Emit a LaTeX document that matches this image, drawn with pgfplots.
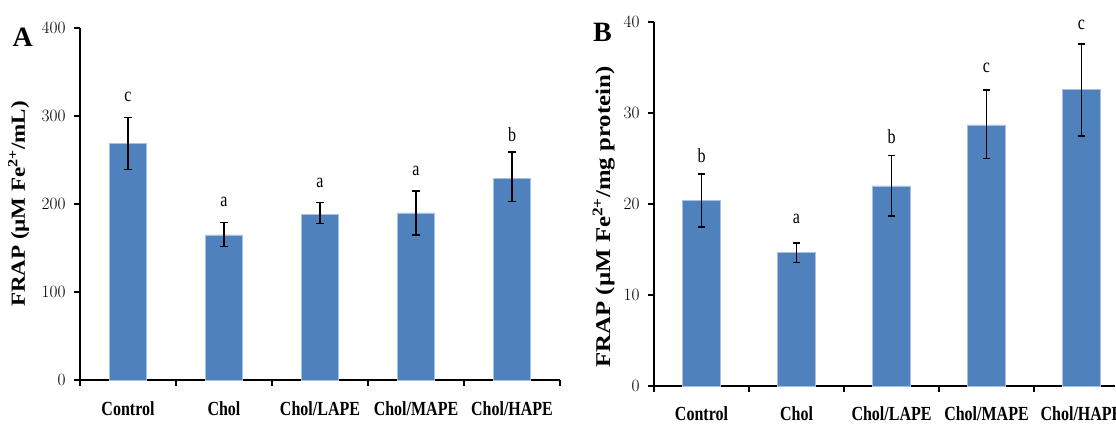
\documentclass[border=0pt]{standalone}
\usepackage{fontspec}
\setmainfont{Liberation Serif}
\newfontfamily\condfont[FakeStretch=0.8]{Liberation Serif}
\newfontfamily\ylabfontA[FakeStretch=1.15]{Liberation Serif}
\newfontfamily\ylabfontB[FakeStretch=1.18]{Liberation Serif}
\usepackage{pgfplots}
\pgfplotsset{compat=1.18}
\usepackage{pgfplotstable}
\definecolor{barblue}{HTML}{4F81BD}
\definecolor{baredge}{HTML}{A9C1E0}

\pgfplotstableread{
x y ep em
0 268.6 29.9 29.6
1 164.8 14.2 13.3
2 188.6 12.9 10.9
3 189.8 25.2 25.0
4 229.0 30.0 26.0
}\dataA

\pgfplotstableread{
x y ep em
0 20.4 2.9 2.9
1 14.7 1.0 1.15
2 22.0 3.35 3.35
3 28.7 3.8 3.7
4 32.6 5.0 5.1
}\dataB

\pgfplotsset{
  panel/.style={
    scale only axis,
    axis x line=bottom, axis y line=left,
    axis line style={-, line width=1.5pt, black},
    tick style={line width=1.5pt, black},
    tick align=outside, major tick length=6pt,
    xmin=-0.5, ymin=0,
    xtick={-0.5,0.5,1.5,2.5,3.5,4.5},
    xticklabels={Control,Chol,Chol/LAPE,Chol/MAPE,Chol/HAPE,{}},
    x tick label style={font=\condfont\bfseries\fontsize{20}{24}\selectfont, anchor=base, text depth=0pt, inner sep=0pt},
    y tick label style={font=\fontsize{16}{18}\selectfont, anchor=east, xshift=-5pt},
    ylabel style={at={(rel axis cs:0,0.5)}, anchor=base},
    clip=false,
  },
  mybar/.style={
    ybar, fill=barblue, draw=baredge, line width=0.6pt,
    error bars/y dir=both, error bars/y explicit,
    error bars/error bar style={line width=1.6pt, black},
    error bars/error mark options={rotate=90, line width=1.6pt, black, mark size=3.6pt},
  },
}
\newcommand{\lett}{\condfont\fontsize{20}{24}\selectfont}

\begin{document}
\begin{tikzpicture}
\useasboundingbox (0,0) rectangle (1116pt,424pt);
\node[anchor=base west, font=\bfseries\fontsize{28}{32}\selectfont, inner sep=0pt] at (12.5pt,377pt) {A};
\node[anchor=base west, font=\bfseries\fontsize{28}{32}\selectfont, inner sep=0pt] at (593pt,382pt) {B};

\begin{axis}[panel,
  at={(80pt,44pt)}, anchor=south west,
  width=480pt, height=352pt,
  xmax=4.5, ymax=400, ytick={0,100,200,300,400},
  x tick label style={xshift=48pt, yshift=-29pt},
  ylabel={FRAP (µM Fe\textsuperscript{2+}/mL)},
  ylabel style={font=\ylabfontA\bfseries\fontsize{20}{24}\selectfont, yshift=55pt},
]
\addplot[mybar, bar width=37.5pt] table[x=x, y=y, y error plus=ep, y error minus=em] {\dataA};
\node[anchor=base, font=\lett] at (axis cs:0,316) {c};
\node[anchor=base, font=\lett] at (axis cs:1,197) {a};
\node[anchor=base, font=\lett] at (axis cs:2,219) {a};
\node[anchor=base, font=\lett] at (axis cs:3,232) {a};
\node[anchor=base, font=\lett] at (axis cs:4,271) {b};
\end{axis}

\begin{axis}[panel,
  at={(654pt,38pt)}, anchor=south west,
  width=460.75pt, height=364pt,
  xmax=4.35, ymax=40, ytick={0,10,20,30,40},
  xtick={-0.5,0.5,1.5,2.5,3.5},
  xticklabels={Control,Chol,Chol/LAPE,Chol/MAPE,Chol/HAPE},
  x tick label style={xshift=47.5pt, yshift=-28pt},
  ylabel={FRAP (µM Fe\textsuperscript{2+}/mg protein)},
  ylabel style={font=\ylabfontB\bfseries\fontsize{21}{24}\selectfont, yshift=44pt, xshift=-13pt},
]
\addplot[mybar, bar width=38pt] table[x=x, y=y, y error plus=ep, y error minus=em] {\dataB};
\node[anchor=base, font=\lett] at (axis cs:0,24.6) {b};
\node[anchor=base, font=\lett] at (axis cs:1,17.9) {a};
\node[anchor=base, font=\lett] at (axis cs:2,26.7) {b};
\node[anchor=base, font=\lett] at (axis cs:3,34.4) {c};
\node[anchor=base, font=\lett] at (axis cs:4,39.2) {c};
\end{axis}
\end{tikzpicture}
\end{document}
